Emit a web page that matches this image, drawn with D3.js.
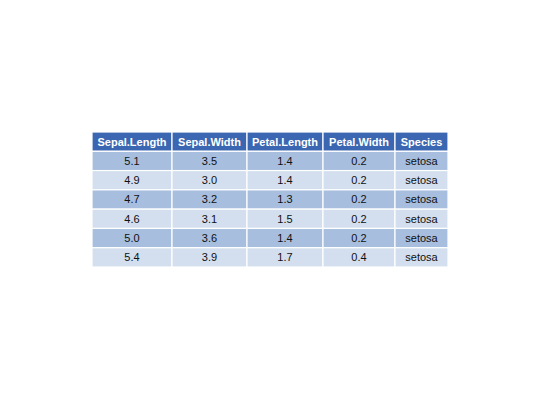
<!DOCTYPE html>
<html>
<head>
<meta charset="utf-8">
<script src="https://cdn.jsdelivr.net/npm/d3@7"></script>
<style>
  body { margin: 0; background: #fff; }
  text { font-family: "Liberation Sans", Arial, sans-serif; }
</style>
</head>
<body>
<div id="chart"></div>
<script>
// Table data
const columns = ["Sepal.Length", "Sepal.Width", "Petal.Length", "Petal.Width", "Species"];
const sepalLength = ["5.1", "4.9", "4.7", "4.6", "5.0", "5.4"];
const sepalWidth = ["3.5", "3.0", "3.2", "3.1", "3.6", "3.9"];
const petalLength = ["1.4", "1.4", "1.3", "1.5", "1.4", "1.7"];
const petalWidth = ["0.2", "0.2", "0.2", "0.2", "0.2", "0.4"];
const species = ["setosa", "setosa", "setosa", "setosa", "setosa", "setosa"];

const W = 540, H = 400;
const tableLeft = 92, tableTop = 132, tableBottom = 267;
const colWidths = [80, 75, 76, 72, 53];

const rows = sepalLength.map((d, i) => [d, sepalWidth[i], petalLength[i], petalWidth[i], species[i]]);

const svg = d3.select("#chart").append("svg")
    .attr("width", W)
    .attr("height", H);

// column edges
const xEdges = [tableLeft];
colWidths.forEach(w => xEdges.push(xEdges[xEdges.length - 1] + w));

const y = d3.scaleBand()
    .domain(d3.range(rows.length + 1))
    .range([tableTop, tableBottom]);

const colors = { header: "#3B66B1", dark: "#A7BEDE", light: "#D3DFEE" };

const allRows = [columns].concat(rows);

const rowG = svg.selectAll(".row")
    .data(allRows)
    .enter()
    .append("g")
    .attr("transform", (d, i) => `translate(0,${y(i)})`);

rowG.selectAll("rect")
    .data((d, i) => d.map((v, j) => ({ v, j, i })))
    .enter()
    .append("rect")
    .attr("x", d => xEdges[d.j])
    .attr("y", 0)
    .attr("width", d => colWidths[d.j])
    .attr("height", y.bandwidth())
    .attr("fill", d => d.i === 0 ? colors.header : (d.i % 2 === 1 ? colors.dark : colors.light))
    .attr("stroke", "#fff")
    .attr("stroke-width", 1.2);

rowG.selectAll("text")
    .data((d, i) => d.map((v, j) => ({ v, j, i })))
    .enter()
    .append("text")
    .attr("x", d => xEdges[d.j] + colWidths[d.j] / 2)
    .attr("y", y.bandwidth() / 2)
    .attr("dy", "0.36em")
    .attr("text-anchor", "middle")
    .style("font-size", "11px")
    .style("font-weight", d => d.i === 0 ? "bold" : "normal")
    .attr("fill", d => d.i === 0 ? "#fff" : "#111")
    .text(d => d.v);
</script>
</body>
</html>
